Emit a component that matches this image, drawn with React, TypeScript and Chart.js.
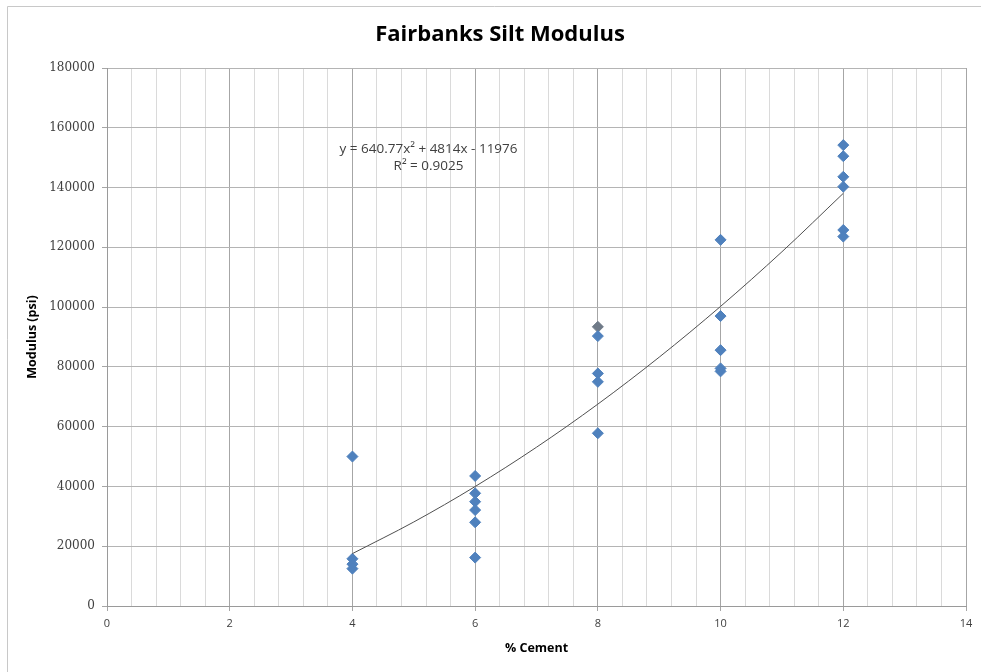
import React, { useEffect, useRef } from "react";
import { Chart, registerables } from "chart.js";

Chart.register(...registerables);

const chartTitle = "Fairbanks Silt Modulus";
const xAxisTitle = "% Cement";
const yAxisTitle = "Modulus (psi)";

const cementPct = [4, 4, 4, 4, 6, 6, 6, 6, 6, 6, 8, 8, 8, 8, 10, 10, 10, 10, 10, 12, 12, 12, 12, 12, 12];
const modulusPsi = [
  50000, 15800, 14000, 12500,
  43500, 37700, 34900, 32100, 28000, 16200,
  90300, 77800, 75000, 57800,
  122500, 97000, 85600, 79500, 78500,
  154200, 150500, 143600, 140300, 125800, 123600,
];
const extraCement = [8];
const extraModulus = [93400];

const trendCement = [4, 5, 6, 7, 8, 9, 10, 11, 12];
const trendModulus = [17532, 28113, 39976, 53120, 67545, 83252, 100241, 118511, 138063];

const equationLines = ["y = 640.77x\u00B2 + 4814x - 11976", "R\u00B2 = 0.9025"];
const equationAnchor = { x: 5.24, y: 153000 };

const xTickLabels = [0, 2, 4, 6, 8, 10, 12, 14];

const isMajor = (v: number) => xTickLabels.some((t) => Math.abs(t - v) < 1e-6);

export default function App() {
  const ref = useRef<HTMLCanvasElement | null>(null);

  useEffect(() => {
    if (!ref.current) return;
    const frame = {
      id: "frame",
      beforeDraw(chart: any) {
        const c = chart.ctx;
        c.save();
        c.fillStyle = "#ffffff";
        c.fillRect(0, 0, chart.width, chart.height);
        c.strokeStyle = "#c8c8c8";
        c.lineWidth = 1;
        c.beginPath();
        c.moveTo(7.5, chart.height);
        c.lineTo(7.5, 6.5);
        c.lineTo(chart.width, 6.5);
        c.stroke();
        c.fillStyle = "#000000";
        c.font = "bold 22px 'Open Sans', sans-serif";
        c.textAlign = "center";
        c.textBaseline = "middle";
        c.fillText(chartTitle, 500, 35);
        c.restore();
      },
      afterDatasetsDraw(chart: any) {
        const c = chart.ctx;
        const xs = chart.scales.x;
        const ys = chart.scales.y;
        const px = xs.getPixelForValue(equationAnchor.x);
        const py = ys.getPixelForValue(equationAnchor.y);
        c.save();
        c.fillStyle = "#404040";
        c.font = "13.5px 'Open Sans', sans-serif";
        c.textAlign = "center";
        c.textBaseline = "middle";
        equationLines.forEach((t, i) => c.fillText(t, px, py + i * 17));
        c.restore();
      },
    };

    const chart = new Chart(ref.current, {
      type: "scatter",
      data: {
        datasets: [
          {
            type: "line",
            label: "Trend",
            data: trendCement.map((x, i) => ({ x, y: trendModulus[i] })),
            borderColor: "#505050",
            borderWidth: 1,
            pointRadius: 0,
            cubicInterpolationMode: "monotone",
            fill: false,
          } as any,
          {
            label: "Modulus",
            data: cementPct.map((x, i) => ({ x, y: modulusPsi[i] })),
            pointStyle: "rectRot",
            pointRadius: 5.5,
            backgroundColor: "#4F81BD",
            borderColor: "#4F81BD",
            borderWidth: 1,
          },
          {
            label: "Extra",
            data: extraCement.map((x, i) => ({ x, y: extraModulus[i] })),
            pointStyle: "rectRot",
            pointRadius: 5.5,
            backgroundColor: "#6f7a88",
            borderColor: "#6f7a88",
            borderWidth: 1,
          },
        ],
      },
      options: {
        animation: false,
        responsive: false,
        maintainAspectRatio: false,
        layout: { padding: { left: 0, right: 15, top: 68, bottom: 0 } },
        plugins: {
          legend: { display: false },
          tooltip: { enabled: false },
          title: { display: false },
        },
        scales: {
          x: {
            type: "linear",
            min: 0,
            max: 14,
            afterFit: (s: any) => {
              s.height = 66;
            },
            ticks: {
              stepSize: 0.4,
              autoSkip: false,
              maxRotation: 0,
              padding: 6,
              color: "#404040",
              font: { family: "'Open Sans', sans-serif", size: 11 },
              callback: (v: any) => {
                const n = Number(v);
                return isMajor(n) ? String(Math.round(n)) : "";
              },
            },
            afterBuildTicks: (s: any) => {
              const t: any[] = [];
              for (let i = 0; i <= 35; i++) t.push({ value: Math.round(i * 0.4 * 10) / 10 });
              s.ticks = t;
            },
            grid: {
              color: (ctx: any) =>
                ctx.tick && isMajor(ctx.tick.value) ? "#a6a6a6" : "#dadada",
              tickLength: 5,
              tickColor: (ctx: any) =>
                ctx.tick && isMajor(ctx.tick.value) ? "#a6a6a6" : "rgba(0,0,0,0)",
            },
            border: { color: "#9a9a9a" },
            title: {
              display: true,
              text: xAxisTitle,
              color: "#000000",
              font: { family: "'Open Sans', sans-serif", size: 12.5, weight: "bold" },
              padding: 16,
            },
          },
          y: {
            type: "linear",
            min: 0,
            max: 180000,
            afterFit: (s: any) => {
              s.width = 107;
            },
            ticks: {
              stepSize: 20000,
              padding: 7,
              color: "#404040",
              font: { family: "'DejaVu Serif', serif", size: 12 },
              callback: (v: any) => String(v),
            },
            grid: {
              color: "#b4b4b4",
              tickLength: 5,
              tickColor: "#a6a6a6",
            },
            border: { color: "#9a9a9a" },
            title: {
              display: true,
              text: yAxisTitle,
              color: "#000000",
              font: { family: "'Open Sans', sans-serif", size: 12.5, weight: "bold" },
              padding: { top: 25, bottom: 0 },
            },
          },
        },
      },
      plugins: [frame],
    } as any);

    return () => chart.destroy();
  }, []);

  return (
    <div style={{ position: "absolute", left: 0, top: 0, width: 981, height: 672, background: "#fff" }}>
      <canvas ref={ref} width={981} height={672} style={{ display: "block", width: 981, height: 672 }} />
    </div>
  );
}
